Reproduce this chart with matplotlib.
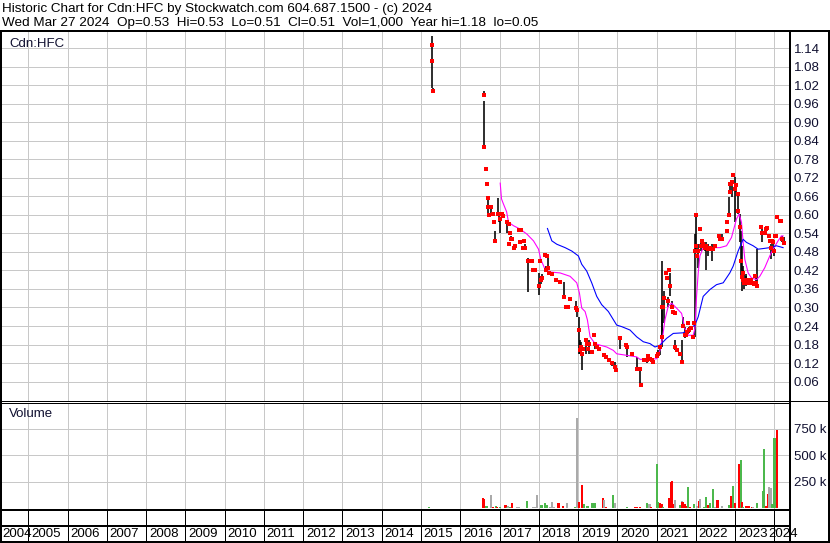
import numpy as np
import matplotlib.pyplot as plt
from matplotlib.lines import Line2D

plt.rcParams['font.family'] = ['Liberation Sans', 'DejaVu Sans']

# ---- data ----
# daily bars: date (fractional year), low, high, close
bar_t = [2015.27, 2015.29, 2015.30,
         2016.610, 2016.612, 2016.655, 2016.673, 2016.695, 2016.705, 2016.720, 2016.788, 2016.831,
         2016.864, 2016.890, 2016.949, 2016.975, 2017.017, 2017.059, 2017.085, 2017.186, 2017.229,
         2017.254, 2017.288, 2017.314, 2017.235, 2017.356, 2017.398, 2017.508, 2017.542, 2017.515,
         2017.610, 2017.630, 2017.653, 2017.720, 2017.822, 2017.850, 2017.880, 2017.907, 2018.017,
         2018.030, 2018.059, 2018.085, 2018.161, 2018.203, 2018.229, 2018.190, 2018.263, 2018.331,
         2018.441, 2018.542, 2018.653, 2018.695, 2018.754, 2018.797, 2018.949, 2018.983, 2019.025,
         2019.051, 2019.076, 2019.110, 2019.136, 2019.203, 2019.237, 2019.263, 2019.288, 2019.347,
         2019.415, 2019.432, 2019.475, 2019.534, 2019.661, 2019.712, 2019.797, 2019.856, 2019.941,
         2019.966, 2020.068, 2020.212, 2020.237, 2020.364, 2020.492, 2020.576, 2020.602, 2020.678,
         2020.746, 2020.788, 2020.831, 2020.873, 2020.915, 2021.000, 2021.025, 2021.085, 2021.127,
         2021.144, 2021.169, 2021.195, 2021.237, 2021.271, 2021.297, 2021.322, 2021.339, 2021.381,
         2021.400, 2021.424, 2021.466, 2021.480, 2021.508, 2021.593, 2021.636, 2021.660, 2021.720,
         2021.746, 2021.780, 2021.805, 2021.831, 2021.864, 2021.932, 2021.950, 2021.975, 2022.000,
         2022.015, 2022.034, 2022.059, 2022.102, 2022.120, 2022.144, 2022.165, 2022.186, 2022.229,
         2022.254, 2022.314, 2022.356, 2022.398, 2022.441, 2022.483, 2022.593, 2022.620, 2022.653,
         2022.780, 2022.800, 2022.847, 2022.865, 2022.881, 2022.900, 2022.925, 2022.950, 2022.995,
         2023.034, 2023.060, 2023.085, 2023.119, 2023.161, 2023.178, 2023.190, 2023.203, 2023.220,
         2023.246, 2023.270, 2023.288, 2023.331, 2023.373, 2023.415, 2023.441, 2023.475, 2023.500,
         2023.525, 2023.559, 2023.669, 2023.695, 2023.754, 2023.797, 2023.820, 2023.864, 2023.895,
         2023.924, 2023.950, 2023.966, 2023.985, 2024.008, 2024.040, 2024.076, 2024.136, 2024.178,
         2024.200, 2024.240]
bar_lo = [1.10, 1.01, 1.00,
          0.99, 0.82, 0.75, 0.70, 0.601, 0.625, 0.601, 0.601, 0.603,
          0.576, 0.516, 0.603, 0.576, 0.543, 0.603, 0.598, 0.543, 0.571,
          0.543, 0.521, 0.521, 0.505, 0.494, 0.500, 0.552, 0.552, 0.511,
          0.494, 0.516, 0.494, 0.349, 0.451, 0.423, 0.423, 0.423, 0.341,
          0.451, 0.376, 0.390, 0.469, 0.467, 0.429, 0.423, 0.412, 0.407,
          0.390, 0.382, 0.331, 0.298, 0.300, 0.328, 0.298, 0.270, 0.150,
          0.150, 0.150, 0.096, 0.167, 0.150, 0.181, 0.167, 0.150, 0.156,
          0.210, 0.167, 0.172, 0.167, 0.145, 0.140, 0.129, 0.112, 0.098,
          0.098, 0.167, 0.178, 0.140, 0.148, 0.101, 0.050, 0.048, 0.131,
          0.120, 0.142, 0.133, 0.129, 0.123, 0.142, 0.140, 0.145, 0.172,
          0.205, 0.303, 0.249, 0.412, 0.390, 0.300, 0.423, 0.336, 0.303,
          0.300, 0.287, 0.281, 0.161, 0.161, 0.150, 0.123, 0.240, 0.200,
          0.210, 0.221, 0.249, 0.216, 0.232, 0.205, 0.249, 0.205, 0.483,
          0.500, 0.467, 0.429, 0.554, 0.483, 0.516, 0.500, 0.505, 0.483,
          0.423, 0.467, 0.494, 0.451, 0.489, 0.500, 0.532, 0.521, 0.516,
          0.576, 0.549, 0.592, 0.674, 0.669, 0.701, 0.659, 0.730, 0.576,
          0.674, 0.669, 0.603, 0.511, 0.401, 0.352, 0.380, 0.376, 0.360,
          0.380, 0.376, 0.369, 0.390, 0.380, 0.390, 0.380, 0.376, 0.401,
          0.369, 0.369, 0.560, 0.511, 0.543, 0.538, 0.556, 0.532, 0.516,
          0.456, 0.516, 0.489, 0.467, 0.532, 0.532, 0.592, 0.581, 0.581,
          0.511, 0.510]
bar_hi = [1.18, 1.10, 1.01,
          1.00, 0.97, 0.75, 0.70, 0.655, 0.625, 0.601, 0.625, 0.603,
          0.576, 0.549, 0.655, 0.603, 0.587, 0.603, 0.598, 0.576, 0.571,
          0.543, 0.532, 0.521, 0.505, 0.494, 0.500, 0.552, 0.552, 0.511,
          0.494, 0.516, 0.505, 0.461, 0.451, 0.423, 0.423, 0.423, 0.412,
          0.451, 0.396, 0.407, 0.469, 0.467, 0.467, 0.434, 0.412, 0.407,
          0.390, 0.382, 0.382, 0.309, 0.309, 0.328, 0.320, 0.298, 0.270,
          0.194, 0.189, 0.150, 0.167, 0.196, 0.181, 0.167, 0.194, 0.156,
          0.210, 0.189, 0.172, 0.172, 0.145, 0.140, 0.129, 0.120, 0.123,
          0.098, 0.200, 0.178, 0.172, 0.148, 0.140, 0.101, 0.048, 0.131,
          0.129, 0.142, 0.133, 0.129, 0.123, 0.142, 0.161, 0.178, 0.292,
          0.451, 0.303, 0.352, 0.412, 0.401, 0.334, 0.423, 0.412, 0.303,
          0.320, 0.287, 0.281, 0.194, 0.161, 0.150, 0.194, 0.270, 0.238,
          0.210, 0.221, 0.249, 0.238, 0.232, 0.205, 0.249, 0.538, 0.601,
          0.500, 0.467, 0.505, 0.554, 0.516, 0.516, 0.500, 0.505, 0.505,
          0.511, 0.505, 0.494, 0.505, 0.489, 0.500, 0.532, 0.521, 0.538,
          0.576, 0.549, 0.658, 0.674, 0.707, 0.701, 0.708, 0.730, 0.724,
          0.697, 0.669, 0.669, 0.603, 0.549, 0.500, 0.434, 0.423, 0.412,
          0.380, 0.401, 0.407, 0.390, 0.380, 0.390, 0.380, 0.376, 0.401,
          0.396, 0.489, 0.560, 0.565, 0.543, 0.554, 0.556, 0.532, 0.516,
          0.505, 0.516, 0.511, 0.494, 0.532, 0.532, 0.592, 0.581, 0.581,
          0.532, 0.530]
bar_cl = [1.15, 1.10, 1.00,
          0.99, 0.82, 0.75, 0.70, 0.655, 0.625, 0.601, 0.625, 0.603,
          0.576, 0.516, 0.603, 0.603, 0.587, 0.603, 0.598, 0.576, 0.571,
          0.543, 0.521, 0.521, 0.505, 0.494, 0.500, 0.552, 0.552, 0.511,
          0.494, 0.516, 0.494, 0.451, 0.451, 0.423, 0.423, 0.423, 0.369,
          0.451, 0.390, 0.396, 0.469, 0.467, 0.429, 0.423, 0.412, 0.407,
          0.390, 0.382, 0.334, 0.303, 0.300, 0.328, 0.298, 0.292, 0.227,
          0.161, 0.172, 0.150, 0.167, 0.196, 0.181, 0.167, 0.183, 0.156,
          0.210, 0.183, 0.172, 0.167, 0.145, 0.140, 0.129, 0.120, 0.107,
          0.098, 0.200, 0.178, 0.172, 0.148, 0.101, 0.101, 0.048, 0.131,
          0.129, 0.142, 0.133, 0.129, 0.123, 0.142, 0.150, 0.172, 0.205,
          0.303, 0.303, 0.331, 0.412, 0.396, 0.320, 0.423, 0.369, 0.303,
          0.303, 0.287, 0.281, 0.172, 0.161, 0.150, 0.123, 0.240, 0.210,
          0.210, 0.221, 0.249, 0.227, 0.232, 0.205, 0.249, 0.483, 0.601,
          0.500, 0.467, 0.483, 0.554, 0.500, 0.516, 0.500, 0.505, 0.494,
          0.500, 0.489, 0.494, 0.489, 0.489, 0.500, 0.532, 0.521, 0.521,
          0.576, 0.549, 0.601, 0.674, 0.701, 0.701, 0.708, 0.730, 0.685,
          0.697, 0.669, 0.614, 0.560, 0.450, 0.400, 0.412, 0.390, 0.380,
          0.380, 0.390, 0.380, 0.390, 0.380, 0.390, 0.380, 0.376, 0.401,
          0.380, 0.369, 0.560, 0.543, 0.543, 0.554, 0.556, 0.532, 0.516,
          0.494, 0.516, 0.511, 0.483, 0.532, 0.532, 0.592, 0.581, 0.581,
          0.521, 0.510]

# short moving average (magenta)
ma_short_t = [2017.017, 2017.05, 2017.085, 2017.18, 2017.229, 2017.356, 2017.525, 2017.695, 2017.864,
              2017.992, 2018.051, 2018.161, 2018.288, 2018.542, 2018.797, 2018.966, 2019.034, 2019.093,
              2019.178, 2019.237, 2019.305, 2019.432, 2019.559, 2019.729, 2019.898, 2019.983, 2020.237,
              2020.492, 2020.576, 2020.831, 2021.000, 2021.085, 2021.153, 2021.212, 2021.297, 2021.381,
              2021.508, 2021.636, 2021.720, 2021.805, 2021.932, 2021.975, 2022.017, 2022.059, 2022.102,
              2022.186, 2022.610, 2022.780, 2022.907, 2023.034, 2023.102, 2023.161, 2023.203, 2023.246,
              2023.331, 2023.415, 2023.542, 2023.627, 2023.754, 2023.881, 2023.966, 2024.093, 2024.178,
              2024.220]
ma_short = [0.703, 0.652, 0.640, 0.610, 0.576, 0.565, 0.554, 0.538, 0.516,
            0.489, 0.456, 0.423, 0.415, 0.412, 0.401, 0.380, 0.347, 0.298,
            0.287, 0.260, 0.205, 0.183, 0.178, 0.172, 0.161, 0.150, 0.145,
            0.140, 0.132, 0.132, 0.134, 0.161, 0.205, 0.260, 0.305, 0.314,
            0.298, 0.281, 0.232, 0.210, 0.210, 0.232, 0.336, 0.412, 0.467,
            0.494, 0.494, 0.500, 0.527, 0.587, 0.603, 0.576, 0.511, 0.456,
            0.412, 0.396, 0.390, 0.401, 0.429, 0.467, 0.489, 0.516, 0.532,
            0.532]

# long moving average (blue)
ma_long_t = [2018.220, 2018.331, 2018.458, 2018.669, 2018.839, 2019.008, 2019.093, 2019.220, 2019.347,
             2019.475, 2019.602, 2019.771, 2019.983, 2020.110, 2020.322, 2020.492, 2020.661, 2020.831,
             2020.958, 2021.085, 2021.254, 2021.424, 2021.678, 2021.847, 2021.975, 2022.059, 2022.186,
             2022.356, 2022.525, 2022.695, 2022.780, 2022.864, 2022.949, 2023.076, 2023.203, 2023.288,
             2023.458, 2023.585, 2023.712, 2023.881, 2024.051, 2024.220]
ma_long = [0.556, 0.516, 0.505, 0.494, 0.483, 0.467, 0.440, 0.418, 0.380,
           0.336, 0.309, 0.287, 0.243, 0.238, 0.227, 0.205, 0.189, 0.183,
           0.172, 0.178, 0.200, 0.216, 0.218, 0.232, 0.243, 0.270, 0.336,
           0.358, 0.374, 0.380, 0.396, 0.412, 0.434, 0.483, 0.521, 0.511,
           0.500, 0.489, 0.491, 0.494, 0.500, 0.494]

# volume: date, shares (thousands), colour class (g = up, r = down, n = unchanged)
vol_t = [2015.21, 2015.25, 2016.57, 2016.61, 2016.66, 2016.69, 2016.74, 2016.79, 2016.84, 2016.91,
         2016.94, 2017.01, 2017.05, 2017.15, 2017.18, 2017.22, 2017.27, 2017.31, 2017.35, 2017.44,
         2017.50, 2017.60, 2017.69, 2017.80, 2017.86, 2017.90, 2017.95, 2018.00, 2018.03, 2018.07,
         2018.16, 2018.20, 2018.24, 2018.28, 2018.34, 2018.39, 2018.50, 2018.54, 2018.62, 2018.71,
         2018.75, 2018.88, 2018.92, 2018.97, 2019.02, 2019.10, 2019.15, 2019.18, 2019.24, 2019.29,
         2019.35, 2019.39, 2019.43, 2019.49, 2019.63, 2019.66, 2019.71, 2019.81, 2019.88, 2019.94,
         2019.98, 2020.07, 2020.24, 2020.32, 2020.45, 2020.51, 2020.58, 2020.75, 2020.82, 2020.86,
         2021.00, 2021.04, 2021.09, 2021.13, 2021.17, 2021.32, 2021.36, 2021.39, 2021.42, 2021.47,
         2021.51, 2021.60, 2021.64, 2021.66, 2021.72, 2021.76, 2021.79, 2021.85, 2021.95, 2022.02,
         2022.07, 2022.10, 2022.21, 2022.26, 2022.32, 2022.36, 2022.43, 2022.49, 2022.55, 2022.59,
         2022.66, 2022.78, 2022.85, 2022.89, 2022.94, 2023.00, 2023.11, 2023.14, 2023.17, 2023.21,
         2023.28, 2023.34, 2023.42, 2023.46, 2023.55, 2023.63, 2023.70, 2023.73, 2023.80, 2023.83,
         2023.87, 2023.90, 2023.95, 2024.00, 2024.06, 2024.10, 2024.14, 2024.18]
vol_k = [14, 5, 102, 92, 23, 23, 8, 127, 17, 23,
         11, 11, 8, 33, 17, 23, 11, 55, 8, 11,
         17, 8, 70, 5, 11, 17, 127, 8, 8, 33,
         55, 33, 8, 17, 61, 11, 49, 8, 23, 52,
         8, 2, 11, 847, 61, 221, 42, 8, 27, 8,
         49, 49, 49, 8, 96, 80, 17, 8, 127, 49,
         8, 2, 17, 8, 11, 11, 14, 49, 42, 11,
         418, 64, 55, 42, 11, 96, 252, 258, 42, 80,
         8, 33, 70, 64, 42, 23, 199, 11, 42, 23,
         74, 86, 17, 105, 30, 49, 180, 17, 80, 8,
         23, 8, 30, 117, 211, 49, 418, 456, 58, 17,
         23, 23, 17, 17, 49, 8, 164, 556, 23, 136,
         205, 190, 39, 659, 738, 8, 8, 2]
vol_c = ['g', 'r', 'r', 'r', 'g', 'g', 'r', 'n', 'r', 'g',
         'r', 'g', 'r', 'r', 'g', 'n', 'g', 'r', 'r', 'n',
         'n', 'r', 'g', 'n', 'n', 'n', 'n', 'r', 'r', 'g',
         'g', 'g', 'g', 'n', 'n', 'n', 'r', 'r', 'r', 'n',
         'r', 'g', 'g', 'n', 'r', 'r', 'g', 'r', 'g', 'r',
         'g', 'g', 'g', 'r', 'r', 'n', 'r', 'r', 'g', 'n',
         'g', 'n', 'g', 'r', 'r', 'r', 'r', 'g', 'n', 'r',
         'g', 'g', 'r', 'r', 'g', 'r', 'r', 'r', 'r', 'n',
         'g', 'g', 'n', 'r', 'r', 'r', 'g', 'r', 'g', 'n',
         'r', 'n', 'g', 'g', 'r', 'g', 'g', 'n', 'r', 'n',
         'n', 'g', 'g', 'r', 'g', 'r', 'r', 'g', 'r', 'g',
         'r', 'r', 'r', 'n', 'g', 'r', 'g', 'g', 'r', 'r',
         'n', 'n', 'g', 'g', 'r', 'r', 'r', 'n']

years = list(range(2004, 2025))
price_ticks = [0.06, 0.12, 0.18, 0.24, 0.30, 0.36, 0.42, 0.48, 0.54, 0.60,
               0.66, 0.72, 0.78, 0.84, 0.90, 0.96, 1.02, 1.08, 1.14]
vol_ticks = [250000, 500000, 750000]
vol_labels = ['250 k', '500 k', '750 k']

title1 = 'Historic Chart for Cdn:HFC by Stockwatch.com 604.687.1500 - (c) 2024'
title2 = 'Wed Mar 27 2024  Op=0.53  Hi=0.53  Lo=0.51  Cl=0.51  Vol=1,000  Year hi=1.18  lo=0.05'

# ---- layout (pixels) ----
W, H = 830, 543
fig = plt.figure(figsize=(W / 100, H / 100), dpi=100)
PX = 0.72  # one pixel in points

def px_axes(x0, y0, x1, y1):
    return fig.add_axes([x0 / W, 1 - y1 / H, (x1 - x0) / W, (y1 - y0) / H])

XMIN, XMAX = 2004.33, 2024.371
grid_c = '#c8c8c8'
lab_c = '#101030'
fs = 9.5
grid_years = years[1:]

# price panel
ax_p = px_axes(2, 31, 789, 401)
ax_p.set_xlim(XMIN, XMAX)
ax_p.set_ylim(-0.003, 1.196)
for y in price_ticks:
    ax_p.axhline(y, color=grid_c, lw=PX, zorder=0)
for yr in grid_years:
    ax_p.axvline(yr, color=grid_c, lw=PX, zorder=0)
ax_p.vlines(bar_t, bar_lo, bar_hi, color='black', lw=1.6 * PX, zorder=2)
ax_p.plot(ma_short_t, ma_short, color='#ff00ff', lw=1.1 * PX, zorder=3)
ax_p.plot(ma_long_t, ma_long, color='#0000ff', lw=1.1 * PX, zorder=3)
ax_p.plot(bar_t, bar_cl, 's', color='#ff0000', ms=2.4, mew=0, zorder=4)
ax_p.set_yticks(price_ticks)
ax_p.set_yticklabels(['%.2f' % v for v in price_ticks])
ax_p.set_xticks([])
ax_p.tick_params(axis='y', left=False, right=False, labelleft=False, labelright=True,
                 length=0, pad=3.6, labelsize=fs, labelcolor=lab_c)
for s in ax_p.spines.values():
    s.set_visible(False)

# volume panel
ax_v = px_axes(2, 403, 789, 509)
ax_v.set_xlim(XMIN, XMAX)
ax_v.set_ylim(-4700, 991500)
for y in vol_ticks:
    ax_v.axhline(y, color=grid_c, lw=PX, zorder=0)
for yr in grid_years:
    ax_v.axvline(yr, color=grid_c, lw=PX, zorder=0)
col_map = {'g': '#4cb84c', 'r': '#ff0000', 'n': '#aaaaaa'}
ax_v.bar(vol_t, [v * 1000 for v in vol_k], width=0.055,
         color=[col_map[c] for c in vol_c], zorder=2, linewidth=0)
ax_v.set_yticks(vol_ticks)
ax_v.set_yticklabels(vol_labels)
ax_v.set_xticks([])
ax_v.tick_params(axis='y', left=False, right=False, labelleft=False, labelright=True,
                 length=0, pad=3.6, labelsize=fs, labelcolor=lab_c)
for s in ax_v.spines.values():
    s.set_visible(False)

# year axis
ax_x = px_axes(2, 509, 789, 542)
ax_x.set_xlim(XMIN, XMAX)
ax_x.set_ylim(0, 1)
ax_x.axis('off')
for yr in grid_years:
    ax_x.axvline(yr, color='black', lw=PX)
ax_x.axhline(0.5, color='black', lw=2 * PX)
for yr in years:
    if yr == years[0]:
        ax_x.text(0.0, 0.25, str(yr), transform=ax_x.transAxes, ha='left', va='center',
                  fontsize=fs, color='black', clip_on=False)
    elif yr == years[-1]:
        # squeezed against the previous label, as in the original
        ax_x.text(yr - 0.16, 0.25, str(yr), ha='left', va='center',
                  fontsize=fs, color='black', clip_on=False)
    else:
        ax_x.text(yr + 0.07, 0.25, str(yr), ha='left', va='center', fontsize=fs,
                  color='black', clip_on=False)

# frame / borders and header text in pixel space
ax_f = fig.add_axes([0, 0, 1, 1], facecolor='none')
ax_f.set_xlim(0, W)
ax_f.set_ylim(H, 0)
ax_f.axis('off')
ax_f.set_zorder(10)
bw = 2 * PX
for (xs, ys, lw) in [((0, W), (30.5, 30.5), bw),
                     ((0, W), (401, 401), PX),
                     ((0, 789), (403, 403), PX),
                     ((0, 789), (509.5, 509.5), bw),
                     ((0, W), (542, 542), bw),
                     ((1, 1), (30, H), bw),
                     ((789.5, 789.5), (30, H), bw),
                     ((829, 829), (30, H), bw)]:
    ax_f.add_line(Line2D(xs, ys, color='black', lw=lw, solid_capstyle='butt'))

ax_f.text(2, 9, title1, ha='left', va='center', fontsize=9.7, color='black')
ax_f.text(2, 23, title2, ha='left', va='center', fontsize=9.7, color='black')
ax_f.text(9, 44, 'Cdn:HFC', ha='left', va='center', fontsize=fs, color=lab_c)
ax_f.text(9, 414, 'Volume', ha='left', va='center', fontsize=fs, color=lab_c)

fig.savefig('out.png', dpi=100)
